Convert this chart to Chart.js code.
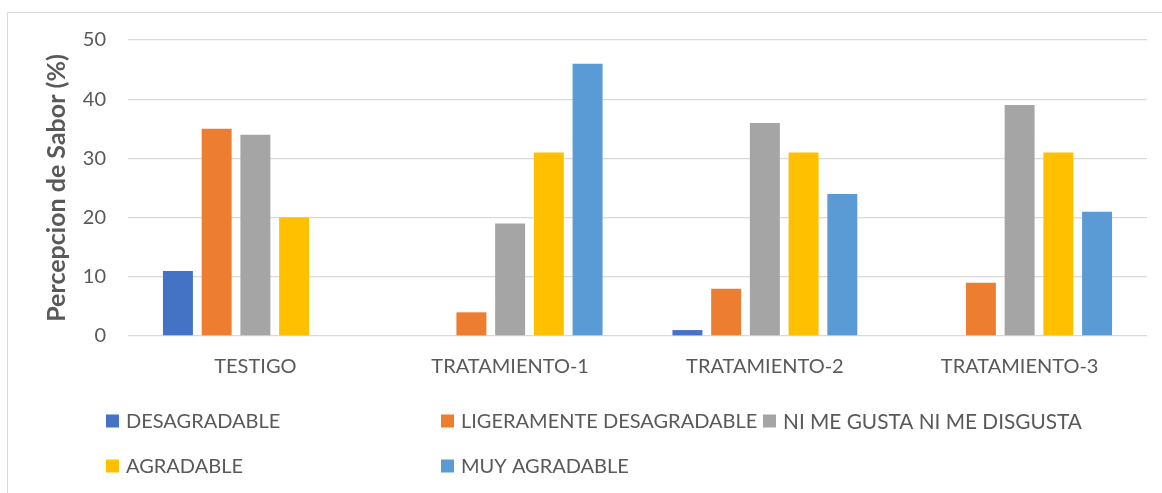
<!DOCTYPE html>
<html>
<head>
<meta charset="utf-8">
<script src="https://cdn.jsdelivr.net/npm/chart.js@4.4.1/dist/chart.umd.min.js"></script>
<style>
  html, body { margin: 0; padding: 0; background: #ffffff; overflow: hidden; }
  #wrap { position: relative; width: 1162px; height: 493px; }
</style>
</head>
<body>
<div id="wrap"><canvas id="c" width="1162" height="493"></canvas></div>
<script>
// Categories and series values (% of panel responses per flavour rating)
const categories = ['TESTIGO', 'TRATAMIENTO-1', 'TRATAMIENTO-2', 'TRATAMIENTO-3'];
const seriesNames = ['DESAGRADABLE', 'LIGERAMENTE DESAGRADABLE', 'NI ME GUSTA NI ME DISGUSTA', 'AGRADABLE', 'MUY AGRADABLE'];
const desagradable = [11, 0, 1, 0];
const ligeramenteDesagradable = [35, 4, 8, 9];
const niMeGustaNiMeDisgusta = [34, 19, 36, 39];
const agradable = [20, 31, 31, 31];
const muyAgradable = [0, 46, 24, 21];
const yTicks = [0, 10, 20, 30, 40, 50];
const yTitle = 'Percepcion de Sabor (%)';

const seriesValues = [desagradable, ligeramenteDesagradable, niMeGustaNiMeDisgusta, agradable, muyAgradable];
const seriesColors = ['#4472C4', '#ED7D31', '#A5A5A5', '#FFC000', '#5B9BD5'];
const textColor = '#595959';
const fontFamily = 'Lato, "Open Sans", sans-serif';

// Thin outer frame (top and left edges visible)
const framePlugin = {
  id: 'frame',
  beforeDraw(chart) {
    const ctx = chart.ctx;
    ctx.save();
    ctx.strokeStyle = '#D9D9D9';
    ctx.lineWidth = 1;
    ctx.beginPath();
    ctx.moveTo(7.5, chart.height + 5);
    ctx.lineTo(7.5, 12.5);
    ctx.lineTo(chart.width + 5, 12.5);
    ctx.stroke();
    ctx.restore();
  }
};

// Legend laid out on a fixed three-column grid below the axis
const legendGrid = {
  id: 'legendGrid',
  afterDraw(chart) {
    const ctx = chart.ctx;
    const cols = [106, 441, 763];
    const rows = [421, 466];
    ctx.save();
    ctx.textBaseline = 'middle';
    ctx.textAlign = 'left';
    chart.data.datasets.forEach((ds, i) => {
      const x = cols[i % 3];
      const y = rows[Math.floor(i / 3)];
      ctx.font = (i === 2 ? '20.8px ' : '20px ') + fontFamily;
      ctx.fillStyle = ds.backgroundColor;
      ctx.fillRect(x, y - 6.5, 13, 13);
      ctx.fillStyle = textColor;
      ctx.fillText(ds.label, x + 20, y + 1);
    });
    ctx.restore();
  }
};

new Chart(document.getElementById('c'), {
  type: 'bar',
  data: {
    labels: categories,
    datasets: seriesNames.map((name, i) => ({
      label: name,
      data: seriesValues[i],
      backgroundColor: seriesColors[i],
      borderWidth: 0,
      categoryPercentage: 0.76,
      barPercentage: 0.774
    }))
  },
  options: {
    responsive: false,
    animation: false,
    layout: { padding: { top: 40, right: 15, left: 0, bottom: 0 } },
    plugins: {
      legend: { display: false },
      tooltip: { enabled: false }
    },
    scales: {
      x: {
        grid: { display: false, drawTicks: false },
        border: { display: false },
        ticks: {
          color: textColor,
          font: { family: fontFamily, size: 20 },
          padding: 19,
          maxRotation: 0
        },
        afterFit(scale) { scale.height = 157; }
      },
      y: {
        min: 0,
        max: 50,
        afterBuildTicks(scale) { scale.ticks = yTicks.map(v => ({ value: v })); },
        grid: { color: '#D9D9D9', lineWidth: 1.3, drawTicks: false },
        border: { display: false },
        ticks: {
          color: textColor,
          font: { family: fontFamily, size: 20 },
          padding: 22
        },
        title: {
          display: true,
          text: yTitle,
          color: textColor,
          font: { family: fontFamily, size: 25, weight: 'bold' },
          padding: { top: 42, bottom: 0 }
        },
        afterFit(scale) { scale.width = 128; }
      }
    }
  },
  plugins: [framePlugin, legendGrid]
});
</script>
</body>
</html>
